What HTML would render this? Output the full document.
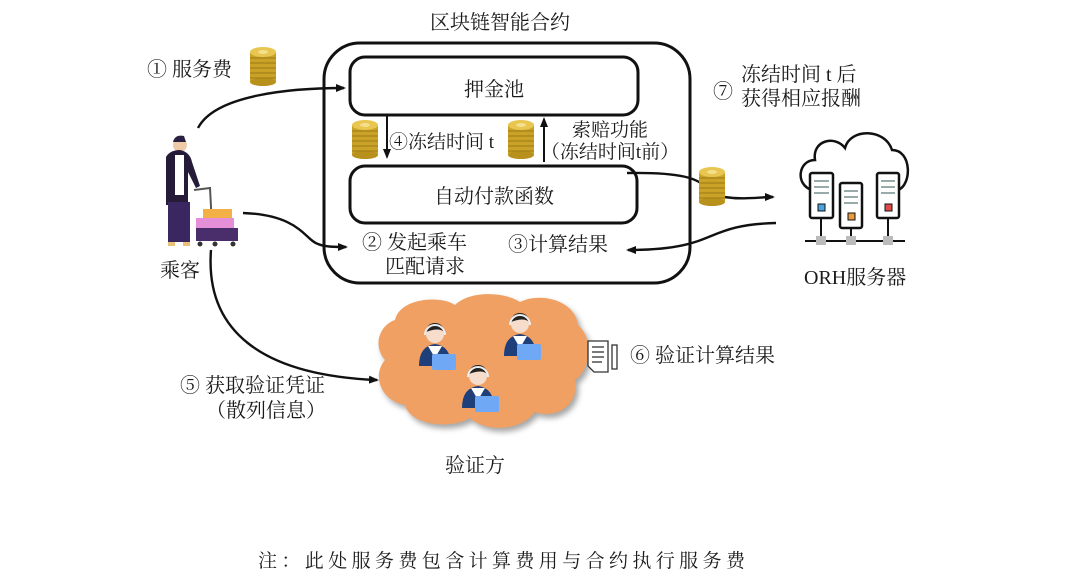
<!DOCTYPE html>
<html><head><meta charset="utf-8"><style>
html,body{margin:0;padding:0;background:#fff;}
svg{display:block;}
text{font-family:"Liberation Serif","Noto Serif CJK SC","Noto Sans CJK SC",serif;fill:#1a1a1a;}
</style></head><body>
<svg width="1075" height="587" viewBox="0 0 1075 587" xmlns="http://www.w3.org/2000/svg">
<defs>
<marker id="ah" markerWidth="11" markerHeight="11" refX="8" refY="5" orient="auto" markerUnits="userSpaceOnUse">
<path d="M0,1 L10,5 L0,9 Z" fill="#111"/></marker>
<g id="coin">
<rect x="-13" y="-14" width="26" height="30" fill="#c9a227"/>
<ellipse cx="0" cy="16" rx="13" ry="4" fill="#b8901c"/>
<g stroke="#9c7a14" stroke-width="1"><line x1="-13" y1="-8" x2="13" y2="-8"/><line x1="-13" y1="-3" x2="13" y2="-3"/><line x1="-13" y1="2" x2="13" y2="2"/><line x1="-13" y1="7" x2="13" y2="7"/><line x1="-13" y1="12" x2="13" y2="12"/></g>
<ellipse cx="0" cy="-14" rx="13" ry="5" fill="#e8c650"/>
<ellipse cx="0" cy="-14" rx="5" ry="2" fill="#f4e08c"/>
</g>
<g id="agent">
<path d="M-16,26 Q-16,6 0,4 Q16,6 16,26 Z" fill="#1e3f7a"/>
<path d="M-7,6 L0,18 L7,6 Z" fill="#fff"/>
<circle cx="0" cy="-6" r="9" fill="#f6dccb"/>
<path d="M-9,-8 Q-8,-17 0,-17 Q8,-17 9,-8 Q4,-13 -9,-8Z" fill="#222"/>
<path d="M-10,-5 A10,10 0 0 1 10,-5" fill="none" stroke="#eee" stroke-width="2"/>
<rect x="-3" y="14" width="24" height="16" rx="2" fill="#6fa8f5"/>
</g>
</defs>

<text x="500" y="29" font-size="20" text-anchor="middle">区块链智能合约</text>
<rect x="324" y="43" width="366" height="240" rx="36" fill="none" stroke="#111" stroke-width="3"/>
<rect x="350" y="57" width="288" height="58" rx="15" fill="#fff" stroke="#111" stroke-width="3"/>
<text x="494" y="96" font-size="20" text-anchor="middle">押金池</text>
<rect x="350" y="166" width="287" height="57" rx="15" fill="#fff" stroke="#111" stroke-width="3"/>
<text x="494" y="203" font-size="20" text-anchor="middle">自动付款函数</text>

<line x1="387" y1="115" x2="387" y2="157" stroke="#111" stroke-width="2" marker-end="url(#ah)"/>
<line x1="544" y1="162" x2="544" y2="119" stroke="#111" stroke-width="2" marker-end="url(#ah)"/>
<use href="#coin" x="365" y="139"/>
<use href="#coin" x="521" y="139"/>
<use href="#coin" x="263" y="66"/>
<text x="389" y="148" font-size="19">④冻结时间 t</text>
<text x="610" y="136" font-size="19" text-anchor="middle">索赔功能</text>
<text x="610" y="158" font-size="19" text-anchor="middle">（冻结时间t前）</text>

<text x="147" y="76" font-size="20">① 服务费</text>
<text x="362" y="249" font-size="20">② 发起乘车</text>
<text x="385" y="273" font-size="20">匹配请求</text>
<text x="508" y="251" font-size="20">③计算结果</text>
<text x="160" y="277" font-size="20">乘客</text>

<!-- passenger -->
<g>
<circle cx="180" cy="145" r="7" fill="#f0c9a8"/>
<path d="M173,142 Q175,134 184,136 L186,142 Z" fill="#2a2140"/>
<path d="M166,157 Q170,150 180,150 Q190,152 192,162 L200,186 L196,188 L188,172 L188,205 L166,205 Z" fill="#261c3a"/>
<rect x="175" y="155" width="9" height="40" fill="#fff"/>
<rect x="168" y="202" width="22" height="40" fill="#3a2660"/>
<rect x="168" y="242" width="7" height="4" fill="#e9c27a"/><rect x="183" y="242" width="7" height="4" fill="#e9c27a"/>
<path d="M194,190 L210,188 L212,226" fill="none" stroke="#555" stroke-width="2"/>
<rect x="203" y="209" width="29" height="10" fill="#f2b046"/>
<rect x="196" y="218" width="38" height="10" fill="#e58fd8"/>
<rect x="196" y="228" width="42" height="13" fill="#4a2d6b"/>
<circle cx="200" cy="244" r="2.5" fill="#333"/><circle cx="215" cy="244" r="2.5" fill="#333"/><circle cx="233" cy="244" r="2.5" fill="#333"/>
</g>

<!-- arrows -->
<g fill="none" stroke="#111" stroke-width="2.4">
<path d="M198,128 C215,95 290,88 344,88" marker-end="url(#ah)"/>
<path d="M243,213 C300,215 305,240 318,244 C325,247 335,247 346,247" marker-end="url(#ah)"/>
<path d="M627,173 C680,172 700,178 708,190"/>
<path d="M724,197 C745,200 760,197 773,197" marker-end="url(#ah)"/>
<path d="M776,223 C700,225 720,250 628,250" marker-end="url(#ah)"/>
<path d="M211,250 C205,330 260,375 377,380" marker-end="url(#ah)"/>
</g>
<use href="#coin" x="712" y="186"/>

<!-- ORH server -->
<g stroke="#111" stroke-width="2.5" fill="#fff">
<path d="M812,190 C795,185 798,160 815,160 C812,140 835,135 845,148 C850,128 885,128 892,150 C912,150 912,185 898,190" fill="#fff"/>
<rect x="810" y="173" width="23" height="45" rx="2"/>
<rect x="840" y="183" width="22" height="45" rx="2"/>
<rect x="877" y="173" width="22" height="45" rx="2"/>
<line x1="805" y1="241" x2="905" y2="241" stroke-width="2"/>
<line x1="821" y1="218" x2="821" y2="241" stroke-width="2"/>
<line x1="851" y1="228" x2="851" y2="241" stroke-width="2"/>
<line x1="888" y1="218" x2="888" y2="241" stroke-width="2"/>
</g>
<g fill="#bbb"><rect x="816" y="236" width="10" height="9"/><rect x="846" y="236" width="10" height="9"/><rect x="883" y="236" width="10" height="9"/></g>
<g stroke="#9aa" stroke-width="2"><line x1="814" y1="181" x2="829" y2="181"/><line x1="814" y1="187" x2="829" y2="187"/><line x1="814" y1="193" x2="829" y2="193"/>
<line x1="844" y1="191" x2="858" y2="191"/><line x1="844" y1="197" x2="858" y2="197"/><line x1="844" y1="203" x2="858" y2="203"/>
<line x1="881" y1="181" x2="895" y2="181"/><line x1="881" y1="187" x2="895" y2="187"/><line x1="881" y1="193" x2="895" y2="193"/></g>
<rect x="818" y="204" width="7" height="7" fill="#4aa3e0" stroke="#111"/>
<rect x="848" y="213" width="7" height="7" fill="#e89a3c" stroke="#111"/>
<rect x="885" y="204" width="7" height="7" fill="#e04a4a" stroke="#111"/>
<text x="804" y="284" font-size="20">ORH服务器</text>

<text x="713" y="98" font-size="20">⑦</text>
<text x="741" y="81" font-size="20">冻结时间 t 后</text>
<text x="741" y="105" font-size="20">获得相应报酬</text>

<!-- verifier cloud -->
<g fill="#f0a062" filter="drop-shadow(3px 4px 3px rgba(0,0,0,0.35))">
<path d="M395,320 C400,298 440,295 455,305 C470,290 505,292 520,302 C540,292 575,300 578,325 C595,340 590,370 575,380 C580,405 555,420 535,412 C520,432 485,432 470,418 C450,430 410,425 405,405 C380,400 372,375 385,360 C372,345 380,325 395,320 Z"/>
</g>
<use href="#agent" x="435" y="340"/>
<use href="#agent" x="520" y="330"/>
<use href="#agent" x="478" y="382"/>
<text x="445" y="472" font-size="20">验证方</text>

<!-- doc icon -->
<g fill="#fff" stroke="#333" stroke-width="1.3">
<path d="M588,341 L608,341 L608,372 L594,372 L588,366 Z"/>
<line x1="592" y1="347" x2="604" y2="347"/><line x1="592" y1="352" x2="604" y2="352"/><line x1="592" y1="357" x2="604" y2="357"/><line x1="592" y1="362" x2="602" y2="362"/>
<rect x="612" y="345" width="5" height="24"/>
</g>
<text x="630" y="362" font-size="20">⑥ 验证计算结果</text>

<text x="180" y="392" font-size="20">⑤ 获取验证凭证</text>
<text x="206" y="417" font-size="20">（散列信息）</text>

<text x="258" y="567" font-size="19" textLength="487" lengthAdjust="spacing">注：此处服务费包含计算费用与合约执行服务费</text>
</svg>
</body></html>
